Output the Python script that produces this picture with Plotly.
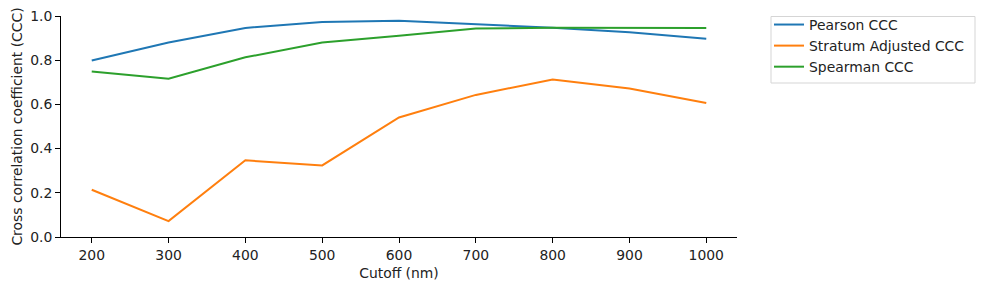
import plotly.graph_objects as go

cutoffs = [200, 300, 400, 500, 600, 700, 800, 900, 1000]
pearson = [0.799, 0.880, 0.946, 0.973, 0.979, 0.964, 0.947, 0.926, 0.897]
stratum = [0.214, 0.072, 0.347, 0.324, 0.541, 0.643, 0.713, 0.672, 0.606]
spearman = [0.749, 0.716, 0.813, 0.880, 0.911, 0.943, 0.947, 0.948, 0.946]

names = ["Pearson CCC", "Stratum Adjusted CCC", "Spearman CCC"]
colors = ["#1f77b4", "#ff7f0e", "#2ca02c"]
series = [pearson, stratum, spearman]

fig = go.Figure()
for n, c, s in zip(names, colors, series):
    fig.add_trace(go.Scatter(x=cutoffs, y=s, mode="lines", name=n,
                             line=dict(color=c, width=2)))

font = dict(family="DejaVu Sans", size=13.9, color="#222")
axis_common = dict(showgrid=False, zeroline=False, showline=True, linecolor="black",
                   linewidth=1, ticks="outside", ticklen=5, tickcolor="black",
                   tickfont=font, mirror=False, automargin=False)

L, R, T, B, W, H = 61, 247, 16, 53, 984, 290
pw, ph = W - L - R, H - T - B

def px_x(x):
    return (x - L) / pw

def px_y(y):
    return (H - B - y) / ph

fig.update_layout(
    width=W, height=H,
    margin=dict(l=L, r=R, t=T, b=B, autoexpand=False),
    plot_bgcolor="white", paper_bgcolor="white",
    font=font,
    xaxis=dict(range=[160, 1040], tickvals=cutoffs,
               title=dict(text="Cutoff (nm)", font=font, standoff=6), **axis_common),
    yaxis=dict(range=[0, 1.0], tickvals=[0, 0.2, 0.4, 0.6, 0.8, 1.0],
               tickformat=".1f",
               title=dict(text="Cross correlation coefficient (CCC)", font=font, standoff=4),
               **axis_common),
    legend=dict(x=px_x(769), y=px_y(9), xanchor="left", yanchor="top",
                borderwidth=0, bgcolor="rgba(0,0,0,0)", font=font,
                tracegroupgap=0),
    showlegend=True,
    shapes=[dict(type="rect", xref="paper", yref="paper",
                 x0=px_x(771), x1=px_x(975), y0=px_y(83), y1=px_y(16.5),
                 line=dict(color="#d5d5d5", width=1), fillcolor="rgba(255,255,255,0.8)",
                 layer="below")],
)
fig.write_html("out.html")
